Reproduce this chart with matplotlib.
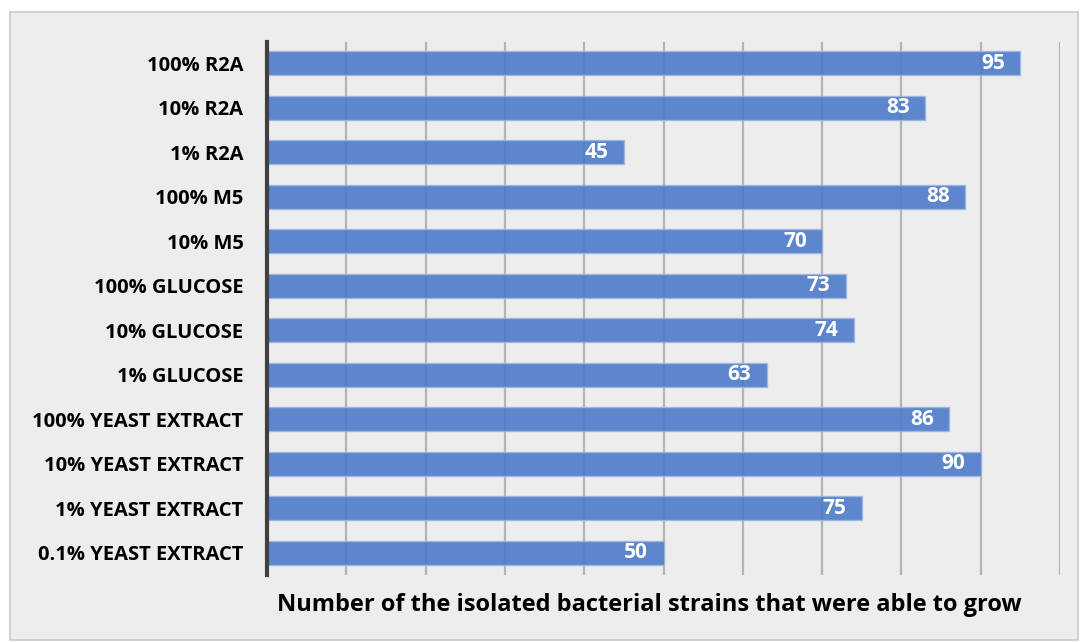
import numpy as np
import matplotlib.pyplot as plt
from matplotlib.patches import Rectangle

MEDIA = ['100% R2A', '10% R2A', '1% R2A', '100% M5', '10% M5',
         '100% GLUCOSE', '10% GLUCOSE', '1% GLUCOSE',
         '100% YEAST EXTRACT', '10% YEAST EXTRACT', '1% YEAST EXTRACT',
         '0.1% YEAST EXTRACT']
STRAINS = [95, 83, 45, 88, 70, 73, 74, 63, 86, 90, 75, 50]
GRID_TICKS = [10, 20, 30, 40, 50, 60, 70, 80, 90, 100]

BG = '#ededed'
BAR = '#4a78c8'

plt.rcParams['font.family'] = ['Open Sans', 'DejaVu Sans']

fig = plt.figure(figsize=(10.8, 6.42), dpi=100, facecolor='white')
fig.patches.append(Rectangle((10 / 1080, 2 / 642), 1068 / 1080, 628 / 642,
                             transform=fig.transFigure, facecolor=BG,
                             edgecolor='#c8c8c8', linewidth=1.2, zorder=-10))

ax = fig.add_axes([267 / 1080, 1 - 575 / 642, 793 / 1080, 533 / 642])
ax.set_facecolor('none')

y = np.arange(len(MEDIA))
bars = ax.barh(y, STRAINS, height=0.54, color=BAR, alpha=0.88,
               edgecolor='#9db6e3', linewidth=1, zorder=3)

for yy, val in zip(y, STRAINS):
    ax.annotate(str(val), (val, yy), xytext=(-11, 0), textcoords='offset points',
                ha='right', va='center', color='white', fontsize=15,
                fontweight='bold', zorder=5)

ax.set_xlim(0, 100)
ax.set_ylim(len(MEDIA) - 0.5, -0.48)
ax.set_yticks(y)
ax.set_yticklabels(MEDIA, fontsize=14.5, fontweight='bold')
ax.tick_params(axis='y', length=0, pad=17)

ax.set_xticks(GRID_TICKS)
ax.set_xticklabels([])
ax.tick_params(axis='x', length=0)
ax.grid(axis='x', color='#b4b4b4', linewidth=1.6, zorder=1)

for side in ['top', 'right', 'bottom']:
    ax.spines[side].set_visible(False)
ax.spines['left'].set_color('#404040')
ax.spines['left'].set_linewidth(3)
ax.spines['left'].set_zorder(4)

ax.set_xlabel('Number of the isolated bacterial strains that were able to grow',
              fontsize=17, fontweight='bold')
ax.xaxis.set_label_coords(0.482, -0.033, transform=ax.transAxes)
ax.xaxis.label.set_va('top')

fig.savefig('out.png', dpi=100, facecolor=fig.get_facecolor())
